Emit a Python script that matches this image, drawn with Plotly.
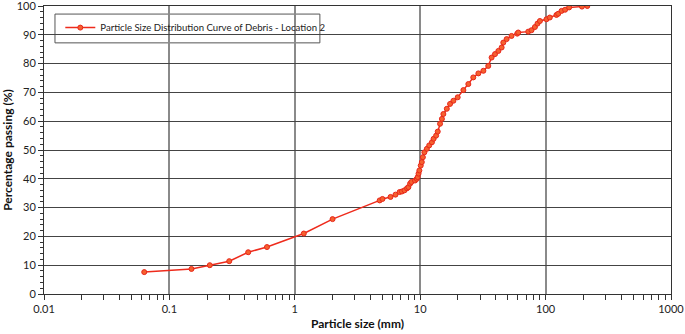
import plotly.graph_objects as go

# Particle size (mm) and percentage passing (%)
particle_size_mm = [
    0.063, 0.15, 0.21, 0.30, 0.425, 0.60, 1.18, 2.0,
    4.75, 5.0, 5.8, 6.35, 6.85, 7.15, 7.5, 7.85, 8.05, 8.3, 8.5,
    9.1, 9.4, 9.55, 9.7, 9.85, 10.1, 10.3, 10.5, 10.8, 11.3, 11.8,
    12.4, 12.8, 13.4, 13.8, 14.4, 14.9, 15.3, 16.3, 17.3, 18.4, 19.9,
    22.1, 24.2, 26.5, 29.1, 31.9, 34.9, 37.1, 39.5, 42.0, 44.6, 46.0,
    48.9, 53.5, 59.4, 60.5, 72.7, 77.2, 82.2, 86.2, 90.1, 101.6, 108,
    122, 126, 134, 143, 154, 195, 215,
]
percent_passing = [
    7.6, 8.7, 10.0, 11.4, 14.5, 16.3, 21.0, 26.0,
    32.5, 33.0, 33.7, 34.5, 35.4, 35.6, 36.0, 36.7, 37.1, 38.3, 38.9,
    39.4, 40.0, 40.6, 41.8, 42.9, 44.6, 45.8, 47.5, 49.2, 50.4, 51.6,
    52.7, 53.9, 55.0, 56.4, 59.1, 60.8, 62.5, 64.3, 66.0, 67.1, 68.3,
    70.8, 72.9, 75.2, 76.6, 77.5, 79.2, 82.1, 83.3, 84.4, 85.6, 87.3,
    88.5, 89.6, 90.4, 90.8, 91.1, 91.6, 92.7, 93.9, 94.8, 95.4, 96.0,
    96.9, 97.3, 98.3, 98.7, 99.5, 99.8, 100.0,
]

x_tick_vals = [0.01, 0.1, 1, 10, 100, 1000]
x_tick_text = ["0.01", "0.1", "1", "10", "100", "1000"]
y_tick_vals = [0, 10, 20, 30, 40, 50, 60, 70, 80, 90, 100]

series_name = "Particle Size Distribution Curve of Debris - Location 2"

FONT = "Lato"

fig = go.Figure()
fig.add_trace(go.Scatter(
    x=particle_size_mm, y=percent_passing, mode="lines+markers",
    name=series_name,
    line=dict(color="#ee2b1c", width=1.5),
    marker=dict(size=5, color="#f5612f", line=dict(color="#e8261a", width=1)),
))

fig.update_layout(
    width=685, height=334,
    margin=dict(l=44, r=14, t=6, b=40, autoexpand=False),
    paper_bgcolor="white", plot_bgcolor="white",
    font=dict(family=FONT, size=11, color="#222"),
    showlegend=True,
    legend=dict(
        x=0.026, y=0.925, xanchor="left", yanchor="middle",
        bgcolor="rgba(0,0,0,0)", borderwidth=0,
        font=dict(family=FONT, size=9.6, color="#222"),
        itemwidth=30,
    ),
    shapes=[dict(type="rect", xref="paper", yref="paper",
                 x0=0.0175, x1=0.440, y0=0.872, y1=0.972,
                 line=dict(color="#555", width=1), fillcolor="white", layer="below")],
)

fig.update_xaxes(
    type="log", range=[-2, 3], automargin=False,
    tickvals=x_tick_vals, ticktext=x_tick_text,
    ticks="outside", ticklen=5, tickcolor="#333",
    showline=True, linecolor="#333", linewidth=1, mirror=True,
    showgrid=True, gridcolor="#8a8a8a", gridwidth=1.5,
    minor=dict(ticks="outside", ticklen=5, tickcolor="#333", showgrid=False,
               tickvals=[m * 10 ** e for e in range(-2, 3) for m in range(2, 10)]),
    tickfont=dict(family=FONT, size=11, color="#222"),
    ticklabeloverflow="allow",
    title=dict(text="<b>Particle size (mm)</b>", font=dict(family=FONT, size=12, color="#111"), standoff=5),
    zeroline=False,
)
fig.update_yaxes(
    range=[0, 100], tickvals=y_tick_vals, automargin=False,
    ticks="outside", ticklen=5, tickcolor="#333",
    showline=True, linecolor="#333", linewidth=1, mirror=True,
    showgrid=True, gridcolor="#444", gridwidth=1,
    minor=dict(ticks="outside", ticklen=3, tickcolor="#333", dtick=2, showgrid=False),
    tickfont=dict(family=FONT, size=11, color="#222"),
    ticklabeloverflow="allow",
    title=dict(text="<b>Percentage passing (%)</b>", font=dict(family=FONT, size=12, color="#111"), standoff=4),
    zeroline=False,
)

fig.write_html("out.html", config={"displayModeBar": False},
               post_script="document.body.style.margin='0';")
